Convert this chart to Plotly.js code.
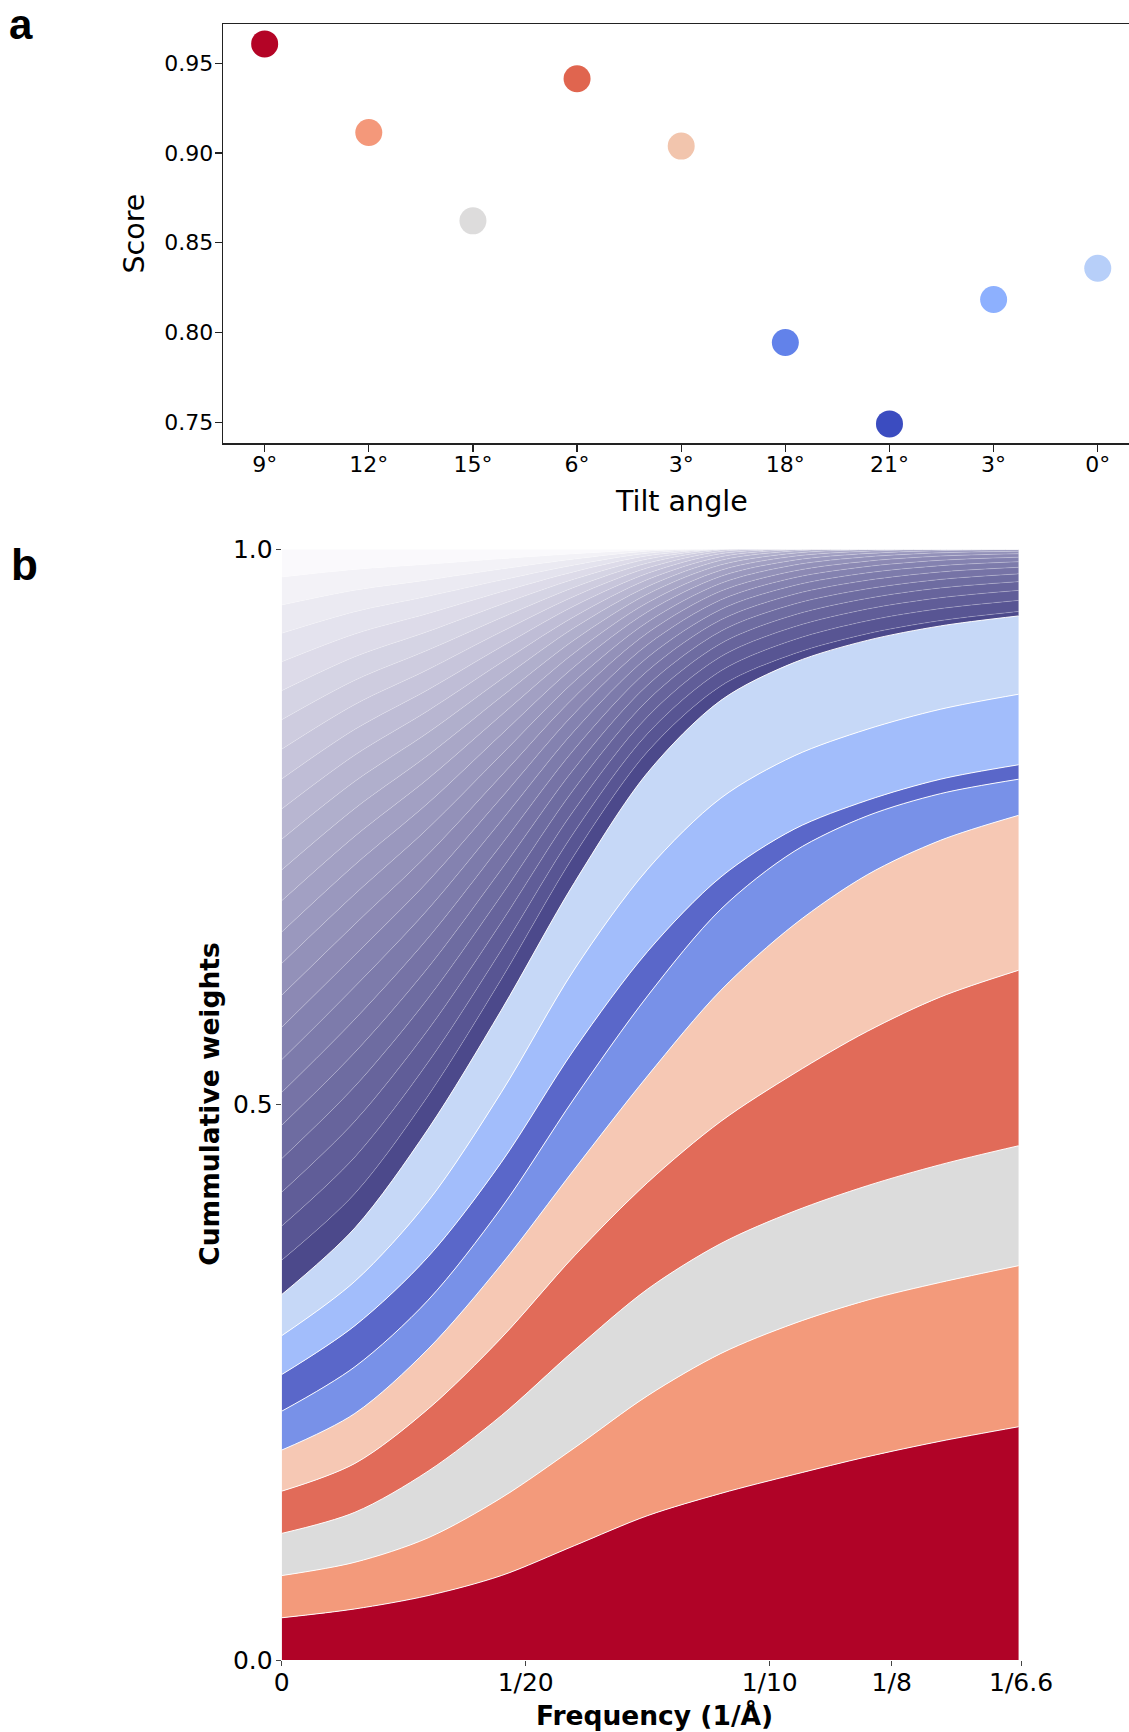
<!DOCTYPE html>
<html><head><meta charset="utf-8">
<script src="https://cdn.plot.ly/plotly-3.0.1.min.js"></script>
<style>html,body{margin:0;padding:0;background:#fff;} #chart{width:1129px;height:1732px;}</style>
</head><body><div id="chart"></div>
<script>
// ---------- Panel a data ----------
const tiltLabels = ['9°', '12°', '15°', '6°', '3°', '18°', '21°', '3°', '0°'];
const scores = [0.9607, 0.9114, 0.8622, 0.9413, 0.9038, 0.7945, 0.7492, 0.8184, 0.8358];
const scoreTickValues = [0.75, 0.80, 0.85, 0.90, 0.95];
const scoreTickLabels = ['0.75', '0.80', '0.85', '0.90', '0.95'];
const markerColors = ['#b40426', '#f4987a', '#dddcdc', '#e0654f', '#f2c5ad', '#6282ea', '#3b4cc0', '#8db0fe', '#b7cff9'];

// ---------- Panel b data (cumulative weights, bottom to top) ----------
const freqValues = [0, 0.015, 0.03, 0.045, 0.06, 0.075, 0.09, 0.105, 0.12, 0.135, 0.151];
const freqTickValues = [0, 0.05, 0.1, 0.125, 0.151515];
const freqTickLabels = ['0', '1/20', '1/10', '1/8', '1/6.6'];
const weightTickValues = [0, 0.5, 1];
const weightTickLabels = ['0.0', '0.5', '1.0'];

const cumTilt9 = [0.038, 0.046, 0.058, 0.076, 0.103, 0.130, 0.150, 0.167, 0.183, 0.197, 0.210];
const cumTilt12 = [0.076, 0.088, 0.110, 0.146, 0.191, 0.238, 0.276, 0.303, 0.324, 0.340, 0.355];
const cumTilt15 = [0.114, 0.133, 0.170, 0.220, 0.279, 0.334, 0.375, 0.404, 0.427, 0.446, 0.463];
const cumTilt6 = [0.152, 0.177, 0.226, 0.290, 0.364, 0.430, 0.485, 0.528, 0.566, 0.597, 0.621];
const cumTilt3a = [0.189, 0.222, 0.280, 0.356, 0.442, 0.526, 0.603, 0.662, 0.707, 0.738, 0.7605];
const cumTilt18 = [0.224, 0.264, 0.324, 0.407, 0.506, 0.598, 0.676, 0.728, 0.760, 0.780, 0.793];
const cumTilt21 = [0.257, 0.301, 0.363, 0.448, 0.550, 0.638, 0.705, 0.748, 0.774, 0.793, 0.806];
const cumTilt3b = [0.292, 0.341, 0.413, 0.511, 0.622, 0.712, 0.776, 0.814, 0.838, 0.856, 0.8695];
const cumTilt0 = [0.329, 0.389, 0.478, 0.585, 0.700, 0.799, 0.864, 0.898, 0.918, 0.931, 0.940];
const bandColors = ['#b00327', '#f39a7b', '#dcdcdc', '#e16b59', '#f6c8b4', '#7891e8', '#5a67c9', '#a2bdfb', '#c6d8f7'];

// remaining tilts (purple stack), cumulative tops, bottom to top
const cumOther01 = [0.3600, 0.4200, 0.5080, 0.6130, 0.7250, 0.8180, 0.8770, 0.9060, 0.9240, 0.9358, 0.9440];
const cumOther02 = [0.3907, 0.4529, 0.5381, 0.6390, 0.7458, 0.8342, 0.8906, 0.9186, 0.9356, 0.9466, 0.9540];
const cumOther03 = [0.4212, 0.4851, 0.5674, 0.6641, 0.7657, 0.8495, 0.9034, 0.9302, 0.9462, 0.9564, 0.9630];
const cumOther04 = [0.4514, 0.5165, 0.5958, 0.6883, 0.7847, 0.8641, 0.9152, 0.9409, 0.9558, 0.9652, 0.9709];
const cumOther05 = [0.4814, 0.5471, 0.6234, 0.7117, 0.8029, 0.8778, 0.9263, 0.9507, 0.9644, 0.9729, 0.9779];
const cumOther06 = [0.5110, 0.5770, 0.6501, 0.7341, 0.8202, 0.8907, 0.9365, 0.9595, 0.9721, 0.9796, 0.9838];
const cumOther07 = [0.5404, 0.6063, 0.6760, 0.7556, 0.8367, 0.9028, 0.9459, 0.9674, 0.9788, 0.9853, 0.9888];
const cumOther08 = [0.5696, 0.6347, 0.7011, 0.7763, 0.8523, 0.9142, 0.9545, 0.9744, 0.9845, 0.9901, 0.9929];
const cumOther09 = [0.5985, 0.6625, 0.7254, 0.7961, 0.8671, 0.9248, 0.9624, 0.9805, 0.9893, 0.9939, 0.9960];
const cumOther10 = [0.6271, 0.6896, 0.7489, 0.8151, 0.8812, 0.9346, 0.9694, 0.9858, 0.9932, 0.9968, 0.9982];
const cumOther11 = [0.6554, 0.7160, 0.7715, 0.8333, 0.8944, 0.9437, 0.9757, 0.9902, 0.9962, 0.9988, 0.9996];
const cumOther12 = [0.6835, 0.7417, 0.7935, 0.8507, 0.9068, 0.9520, 0.9812, 0.9938, 0.9983, 0.9998, 1.0];
const cumOther13 = [0.7113, 0.7667, 0.8146, 0.8672, 0.9185, 0.9597, 0.9860, 0.9965, 0.9996, 1.0, 1.0];
const cumOther14 = [0.7389, 0.7911, 0.8350, 0.8830, 0.9295, 0.9666, 0.9901, 0.9985, 1.0, 1.0, 1.0];
const cumOther15 = [0.7662, 0.8148, 0.8547, 0.8980, 0.9396, 0.9729, 0.9934, 0.9996, 1.0, 1.0, 1.0];
const cumOther16 = [0.7932, 0.8379, 0.8736, 0.9122, 0.9491, 0.9784, 0.9961, 1.0, 1.0, 1.0, 1.0];
const cumOther17 = [0.8200, 0.8603, 0.8918, 0.9257, 0.9578, 0.9833, 0.9981, 1.0, 1.0, 1.0, 1.0];
const cumOther18 = [0.8465, 0.8821, 0.9093, 0.9384, 0.9659, 0.9876, 0.9994, 1.0, 1.0, 1.0, 1.0];
const cumOther19 = [0.8727, 0.9033, 0.9261, 0.9504, 0.9732, 0.9912, 1.0, 1.0, 1.0, 1.0, 1.0];
const cumOther20 = [0.8987, 0.9238, 0.9422, 0.9617, 0.9799, 0.9942, 1.0, 1.0, 1.0, 1.0, 1.0];
const cumOther21 = [0.9244, 0.9438, 0.9577, 0.9723, 0.9859, 0.9965, 1.0, 1.0, 1.0, 1.0, 1.0];
const cumOther22 = [0.9498, 0.9631, 0.9724, 0.9822, 0.9912, 0.9983, 1.0, 1.0, 1.0, 1.0, 1.0];
const cumOther23 = [0.9750, 0.9818, 0.9865, 0.9914, 0.9959, 0.9994, 1.0, 1.0, 1.0, 1.0, 1.0];
const cumOther24 = [1.0, 1.0, 1.0, 1.0, 1.0, 1.0, 1.0, 1.0, 1.0, 1.0, 1.0];

const mainCum = [cumTilt9, cumTilt12, cumTilt15, cumTilt6, cumTilt3a, cumTilt18, cumTilt21, cumTilt3b, cumTilt0];
const otherCum = [cumOther01, cumOther02, cumOther03, cumOther04, cumOther05, cumOther06, cumOther07, cumOther08,
  cumOther09, cumOther10, cumOther11, cumOther12, cumOther13, cumOther14, cumOther15, cumOther16,
  cumOther17, cumOther18, cumOther19, cumOther20, cumOther21, cumOther22, cumOther23, cumOther24];

// ---------- geometry (pixels of the 1129 x 1732 canvas) ----------
const W = 1129, H = 1732;
const px = v => v / W;
const py = v => 1 - v / H;

const traces = [];
// panel a
traces.push({
  type: 'scatter', mode: 'markers', xaxis: 'x', yaxis: 'y',
  x: tiltLabels.map((_, i) => i), y: scores,
  marker: { size: 27, color: markerColors, line: { width: 0 } },
  hoverinfo: 'skip', showlegend: false
});

// panel b: main bands
mainCum.forEach((arr, i) => {
  traces.push({
    type: 'scatter', mode: 'lines', xaxis: 'x2', yaxis: 'y2',
    x: freqValues, y: arr,
    fill: i === 0 ? 'tozeroy' : 'tonexty',
    fillcolor: bandColors[i],
    line: { color: 'rgba(255,255,255,0.95)', width: 1, shape: 'spline', smoothing: 0.9 },
    hoverinfo: 'skip', showlegend: false
  });
});
// panel b: other tilts (purple gradient, darkest at the bottom)
const n = otherCum.length;
otherCum.forEach((arr, j) => {
  const t = j === 0 ? 0 : 0.07 + 0.93 * (j - 1) / (n - 2);
  const r = Math.round(76 + t * (250 - 76));
  const g = Math.round(73 + t * (249 - 73));
  const b = Math.round(139 + t * (252 - 139));
  traces.push({
    type: 'scatter', mode: 'lines', xaxis: 'x2', yaxis: 'y2',
    x: freqValues, y: arr, fill: 'tonexty',
    fillcolor: `rgb(${r},${g},${b})`,
    line: { color: j === n - 1 ? 'rgba(255,255,255,0)' : 'rgba(255,255,255,0.4)', width: 0.6, shape: 'spline', smoothing: 0.9 },
    hoverinfo: 'skip', showlegend: false
  });
});

const tickFontA = { family: 'DejaVu Sans, sans-serif', size: 22, color: '#000' };
const tickFontB = { family: 'DejaVu Sans, sans-serif', size: 25, color: '#000' };

const layout = {
  width: W, height: H, autosize: false,
  margin: { l: 0, r: 0, t: 0, b: 0, pad: 0 },
  paper_bgcolor: '#fff', plot_bgcolor: '#fff',
  showlegend: false, hovermode: false,
  xaxis: {
    domain: [px(223), 1], range: [-0.4, 8.3], anchor: 'y',
    tickmode: 'array', tickvals: tiltLabels.map((_, i) => i), ticktext: tiltLabels,
    showline: true, mirror: true, linecolor: '#222', linewidth: 1.3,
    ticks: 'outside', ticklen: 7, tickwidth: 1.2, tickcolor: '#222', ticklabelstandoff: -6,
    tickfont: tickFontA, showgrid: false, zeroline: false
  },
  yaxis: {
    domain: [py(443.3), py(24.3)], range: [0.7384, 0.9716], anchor: 'x',
    tickmode: 'array', tickvals: scoreTickValues, ticktext: scoreTickLabels,
    showline: true, mirror: false, linecolor: '#222', linewidth: 1.3,
    ticks: 'outside', ticklen: 7, tickwidth: 1.2, tickcolor: '#222', ticklabelstandoff: -3,
    tickfont: tickFontA, showgrid: false, zeroline: false
  },
  xaxis2: {
    domain: [px(281.7), px(1025.9)], range: [0, 0.1525], anchor: 'y2',
    tickmode: 'array', tickvals: freqTickValues, ticktext: freqTickLabels,
    showline: false, ticks: 'outside', ticklen: 5, tickwidth: 1, tickcolor: '#444', ticklabelstandoff: -5,
    tickfont: tickFontB, showgrid: false, zeroline: false
  },
  yaxis2: {
    domain: [py(1660), py(549.3)], range: [0, 1], anchor: 'x2',
    tickmode: 'array', tickvals: weightTickValues, ticktext: weightTickLabels,
    showline: false, ticks: 'outside', ticklen: 5, tickwidth: 1, tickcolor: '#444', ticklabelstandoff: -2,
    tickfont: tickFontB, showgrid: false, zeroline: false
  },
  annotations: [
    { text: 'a', xref: 'paper', yref: 'paper', x: px(8), y: 1, xanchor: 'left', yanchor: 'top', borderpad: 0,
      showarrow: false, font: { family: 'Liberation Sans, Arial, sans-serif', size: 42, color: '#000', weight: 'bold' } },
    { text: 'b', xref: 'paper', yref: 'paper', x: px(9), y: py(564.8), xanchor: 'left', yanchor: 'middle',
      showarrow: false, font: { family: 'Liberation Sans, Arial, sans-serif', size: 44, color: '#000', weight: 'bold' } },
    { text: 'Score', xref: 'paper', yref: 'paper', x: px(134), y: py(233.5), xanchor: 'center', yanchor: 'middle',
      textangle: -90, showarrow: false, font: { family: 'DejaVu Sans, sans-serif', size: 28.5, color: '#000' } },
    { text: 'Tilt angle', xref: 'x', yref: 'paper', x: 4, y: py(501.7), xanchor: 'center', yanchor: 'middle',
      showarrow: false, font: { family: 'DejaVu Sans, sans-serif', size: 28.5, color: '#000' } },
    { text: '<b>Cummulative weights</b>', xref: 'paper', yref: 'paper', x: px(210), y: py(1104.7), xanchor: 'center', yanchor: 'middle',
      textangle: -90, showarrow: false, font: { family: 'DejaVu Sans, sans-serif', size: 26.5, color: '#000' } },
    { text: '<b>Frequency (1/Å)</b>', xref: 'paper', yref: 'paper', x: px(654), y: py(1715.6), xanchor: 'center', yanchor: 'middle',
      showarrow: false, font: { family: 'DejaVu Sans, sans-serif', size: 26.5, color: '#000' } }
  ]
};

Plotly.newPlot('chart', traces, layout, { staticPlot: true, displayModeBar: false });
</script>
</body></html>
